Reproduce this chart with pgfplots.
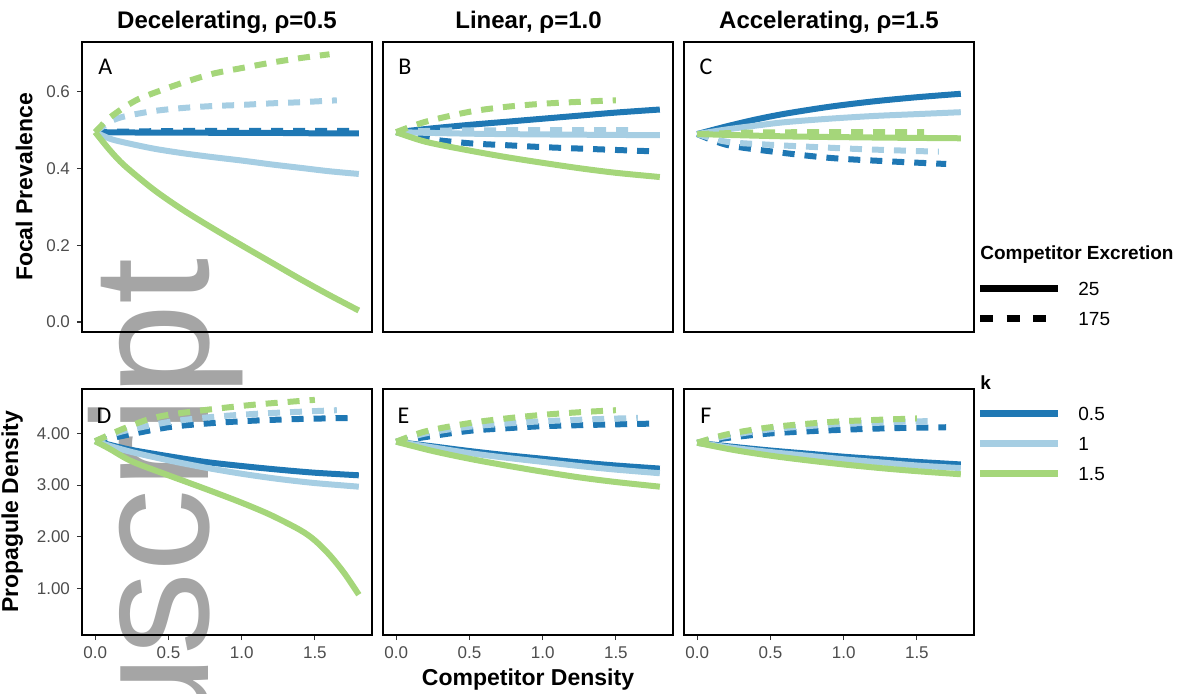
\documentclass[border=0pt]{standalone}
\usepackage{pgfplots}
\pgfplotsset{compat=1.18}
\usepackage{fontspec}
\setmainfont{Liberation Sans}
\newfontfamily\letterfont{Carlito}
\definecolor{dblue}{RGB}{31,120,180}
\definecolor{lblue}{RGB}{166,206,227}
\definecolor{lgreen}{RGB}{165,214,122}
\definecolor{tickgray}{RGB}{77,77,77}
\definecolor{wm}{RGB}{165,165,165}
\pgfplotsset{
  panel/.style={scale only axis, width=145pt,
    axis line style={line width=0.8pt, black},
    tick style={line width=0.6pt, black!80},
    tick align=outside, major tick length=2.5pt,
    xtick pos=bottom, ytick pos=left,
    xmin=-0.09, xmax=1.89,
    ticklabel style={font=\fontsize{8.5}{10}\selectfont, text=tickgray},
    every axis plot/.append style={line width=3pt, smooth, line cap=butt, line join=round},
  },
  toprow/.style={height=145pt, ymin=-0.026, ymax=0.73, xtick=\empty},
  botrow/.style={height=123pt, ymin=0.1, ymax=4.86,
    xtick={0,0.5,1,1.5}, xticklabels={0.0,0.5,1.0,1.5}},
  noy/.style={ytick=\empty},
  dsh/.style={dash pattern=on 6pt off 5pt},
}
\begin{document}
\begin{tikzpicture}
\path[use as bounding box] (0,0) rectangle (597.5pt,-347pt);
% watermark
\node[rotate=90, anchor=base east, inner sep=0pt, text=wm, font=\fontsize{83}{83}\selectfont] at (104pt,-129pt) {uscript};

% ---------- A ----------
\begin{axis}[panel, toprow, at={(41pt,-21pt)}, anchor=north west,
  ytick={0,0.2,0.4,0.6}, yticklabels={0.0,0.2,0.4,0.6},
  ylabel={Focal Prevalence}, ylabel style={font=\bfseries\fontsize{11.5}{13}\selectfont}]
\addplot[dblue] coordinates {(0,0.495)(0.3,0.494)(0.6,0.494)(0.9,0.493)(1.2,0.493)(1.5,0.492)(1.8,0.492)};
\addplot[dblue,dsh] coordinates {(0,0.495)(0.3,0.497)(0.6,0.498)(0.9,0.498)(1.2,0.498)(1.5,0.498)(1.8,0.498)};
\addplot[lblue] coordinates {(0,0.495)(0.1,0.478)(0.2,0.468)(0.4,0.452)(0.6,0.44)(0.8,0.43)(1.0,0.421)(1.2,0.411)(1.4,0.402)(1.6,0.393)(1.8,0.386)};
\addplot[lblue,dsh] coordinates {(0,0.495)(0.1,0.522)(0.2,0.536)(0.4,0.550)(0.6,0.558)(0.8,0.563)(1.0,0.566)(1.2,0.570)(1.4,0.573)(1.65,0.578)};
\addplot[lgreen] coordinates {(0,0.495)(0.1,0.448)(0.2,0.408)(0.4,0.345)(0.6,0.292)(0.8,0.245)(1.0,0.200)(1.2,0.156)(1.4,0.112)(1.6,0.070)(1.8,0.030)};
\addplot[lgreen,dsh] coordinates {(0,0.495)(0.05,0.515)(0.1,0.533)(0.2,0.560)(0.3,0.582)(0.45,0.604)(0.6,0.624)(0.8,0.647)(1.0,0.662)(1.2,0.676)(1.4,0.688)(1.6,0.698)};
\node[font=\letterfont\fontsize{12}{12}\selectfont] at (axis cs:0.07,0.665) {A};
\end{axis}

% ---------- B ----------
\begin{axis}[panel, toprow, noy, at={(191.5pt,-21pt)}, anchor=north west]
\addplot[dblue] coordinates {(0,0.495)(0.25,0.505)(0.5,0.514)(0.75,0.522)(1.0,0.530)(1.25,0.538)(1.5,0.546)(1.8,0.554)};
\addplot[dblue,dsh] coordinates {(0,0.495)(0.2,0.478)(0.5,0.466)(0.75,0.461)(1.0,0.456)(1.4,0.450)(1.75,0.445)};
\addplot[lblue] coordinates {(0,0.495)(0.5,0.491)(1.0,0.489)(1.8,0.487)};
\addplot[lblue,dsh] coordinates {(0,0.495)(0.3,0.499)(0.8,0.500)(1.2,0.500)(1.6,0.500)};
\addplot[lgreen] coordinates {(0,0.495)(0.2,0.47)(0.5,0.447)(0.75,0.43)(1.0,0.415)(1.25,0.401)(1.5,0.389)(1.8,0.378)};
\addplot[lgreen,dsh] coordinates {(0,0.495)(0.2,0.522)(0.5,0.548)(0.75,0.561)(1.0,0.569)(1.25,0.574)(1.5,0.578)};
\node[font=\letterfont\fontsize{12}{12}\selectfont] at (axis cs:0.06,0.665) {B};
\end{axis}

% ---------- C ----------
\begin{axis}[panel, toprow, noy, at={(342pt,-21pt)}, anchor=north west]
\addplot[dblue] coordinates {(0,0.49)(0.2,0.51)(0.4,0.528)(0.6,0.543)(0.9,0.561)(1.2,0.575)(1.5,0.586)(1.8,0.595)};
\addplot[dblue,dsh] coordinates {(0,0.49)(0.2,0.462)(0.5,0.445)(0.9,0.428)(1.3,0.419)(1.7,0.412)};
\addplot[lblue] coordinates {(0,0.49)(0.2,0.502)(0.4,0.512)(0.6,0.521)(0.9,0.53)(1.2,0.537)(1.5,0.542)(1.8,0.547)};
\addplot[lblue,dsh] coordinates {(0,0.49)(0.2,0.47)(0.5,0.462)(0.76,0.457)(1.1,0.451)(1.48,0.446)(1.65,0.444)};
\addplot[lgreen] coordinates {(0,0.49)(0.6,0.484)(1.2,0.481)(1.8,0.479)};
\addplot[lgreen,dsh] coordinates {(0,0.49)(0.4,0.494)(0.9,0.495)(1.55,0.495)};
\node[font=\letterfont\fontsize{12}{12}\selectfont] at (axis cs:0.06,0.665) {C};
\end{axis}

% ---------- D ----------
\begin{axis}[panel, botrow, at={(41pt,-194.5pt)}, anchor=north west,
  ytick={1,2,3,4}, yticklabels={1.00,2.00,3.00,4.00},
  ylabel={Propagule Density}, ylabel style={font=\bfseries\fontsize{11.5}{13}\selectfont}]
\addplot[dblue] coordinates {(0,3.85)(0.1,3.78)(0.25,3.68)(0.5,3.56)(0.75,3.45)(1.0,3.37)(1.25,3.30)(1.5,3.24)(1.8,3.19)};
\addplot[dblue,dsh] coordinates {(0,3.85)(0.1,3.90)(0.2,3.96)(0.5,4.12)(0.8,4.20)(1.1,4.25)(1.4,4.28)(1.75,4.30)};
\addplot[lblue] coordinates {(0,3.85)(0.1,3.76)(0.25,3.64)(0.5,3.48)(0.75,3.34)(1.0,3.22)(1.25,3.12)(1.5,3.04)(1.8,2.97)};
\addplot[lblue,dsh] coordinates {(0,3.85)(0.1,3.96)(0.2,4.05)(0.5,4.22)(0.8,4.32)(1.1,4.38)(1.4,4.42)(1.65,4.45)};
\addplot[lgreen] coordinates {(0,3.85)(0.1,3.70)(0.25,3.46)(0.5,3.19)(0.75,2.93)(1.0,2.66)(1.2,2.42)(1.4,2.13)(1.5,1.93)(1.6,1.65)(1.7,1.30)(1.8,0.88)};
\addplot[lgreen,dsh] coordinates {(0,3.85)(0.1,3.98)(0.2,4.10)(0.35,4.26)(0.5,4.36)(0.8,4.47)(1.1,4.56)(1.5,4.65)};
\node[font=\letterfont\fontsize{12}{12}\selectfont] at (axis cs:0.06,4.34) {D};
\end{axis}

% ---------- E ----------
\begin{axis}[panel, botrow, noy, at={(191.5pt,-194.5pt)}, anchor=north west,
  xlabel={Competitor Density}, xlabel style={font=\bfseries\fontsize{11.5}{13}\selectfont, yshift=2pt}]
\addplot[dblue] coordinates {(0,3.84)(0.25,3.75)(0.5,3.66)(0.75,3.58)(1.0,3.51)(1.25,3.44)(1.5,3.38)(1.8,3.32)};
\addplot[dblue,dsh] coordinates {(0,3.84)(0.2,3.93)(0.5,4.05)(0.75,4.10)(1.0,4.14)(1.4,4.17)(1.75,4.19)};
\addplot[lblue] coordinates {(0,3.84)(0.25,3.73)(0.5,3.62)(0.75,3.53)(1.0,3.45)(1.25,3.37)(1.5,3.30)(1.8,3.23)};
\addplot[lblue,dsh] coordinates {(0,3.84)(0.2,4.0)(0.5,4.13)(0.9,4.22)(1.3,4.27)(1.65,4.30)};
\addplot[lgreen] coordinates {(0,3.84)(0.25,3.66)(0.5,3.51)(0.75,3.38)(1.0,3.26)(1.25,3.15)(1.5,3.06)(1.8,2.97)};
\addplot[lgreen,dsh] coordinates {(0,3.84)(0.2,4.04)(0.5,4.20)(0.75,4.29)(1.0,4.36)(1.25,4.41)(1.5,4.45)};
\node[font=\letterfont\fontsize{12}{12}\selectfont] at (axis cs:0.05,4.34) {E};
\end{axis}

% ---------- F ----------
\begin{axis}[panel, botrow, noy, at={(342pt,-194.5pt)}, anchor=north west]
\addplot[dblue] coordinates {(0,3.82)(0.25,3.74)(0.5,3.67)(0.75,3.61)(1.0,3.55)(1.25,3.50)(1.5,3.45)(1.8,3.40)};
\addplot[dblue,dsh] coordinates {(0,3.82)(0.2,3.91)(0.5,4.0)(0.9,4.06)(1.3,4.10)(1.7,4.12)};
\addplot[lblue] coordinates {(0,3.82)(0.25,3.72)(0.5,3.64)(0.75,3.57)(1.0,3.50)(1.25,3.44)(1.5,3.38)(1.8,3.33)};
\addplot[lblue,dsh] coordinates {(0,3.82)(0.2,3.95)(0.5,4.08)(0.9,4.17)(1.2,4.21)(1.6,4.24)};
\addplot[lgreen] coordinates {(0,3.82)(0.25,3.68)(0.5,3.57)(0.75,3.48)(1.0,3.40)(1.25,3.33)(1.5,3.27)(1.8,3.21)};
\addplot[lgreen,dsh] coordinates {(0,3.82)(0.2,3.98)(0.5,4.12)(0.9,4.22)(1.2,4.26)(1.5,4.29)};
\node[font=\letterfont\fontsize{12}{12}\selectfont] at (axis cs:0.06,4.34) {F};
\end{axis}

% titles
\begin{scope}[every node/.style={font=\bfseries\fontsize{12}{14}\selectfont}]
\node at (113.5pt,-11pt) {Decelerating, ρ=0.5};
\node at (264.25pt,-11pt) {Linear, ρ=1.0};
\node at (414.5pt,-11pt) {Accelerating, ρ=1.5};
\end{scope}

% legends
\node[anchor=west, inner sep=0pt, font=\bfseries\fontsize{9.5}{11}\selectfont] at (490pt,-127.5pt) {Competitor Excretion};
\draw[line width=3.5pt, black] (490pt,-144.5pt) -- (529pt,-144.5pt);
\draw[line width=3.5pt, black, dash pattern=on 6.5pt off 6.8pt] (490pt,-159.5pt) -- (529pt,-159.5pt);
\node[anchor=west, inner sep=0pt, font=\fontsize{9.5}{11}\selectfont] at (539pt,-144.5pt) {25};
\node[anchor=west, inner sep=0pt, font=\fontsize{9.5}{11}\selectfont] at (539pt,-159.5pt) {175};

\node[anchor=west, inner sep=0pt, font=\bfseries\fontsize{9.5}{11}\selectfont] at (490pt,-191.5pt) {k};
\draw[line width=3.5pt, dblue] (490pt,-207pt) -- (529pt,-207pt);
\draw[line width=3.5pt, lblue] (490pt,-222pt) -- (529pt,-222pt);
\draw[line width=3.5pt, lgreen] (490pt,-237pt) -- (529pt,-237pt);
\node[anchor=west, inner sep=0pt, font=\fontsize{9.5}{11}\selectfont] at (539pt,-207pt) {0.5};
\node[anchor=west, inner sep=0pt, font=\fontsize{9.5}{11}\selectfont] at (539pt,-222pt) {1};
\node[anchor=west, inner sep=0pt, font=\fontsize{9.5}{11}\selectfont] at (539pt,-237pt) {1.5};
\end{tikzpicture}
\end{document}
